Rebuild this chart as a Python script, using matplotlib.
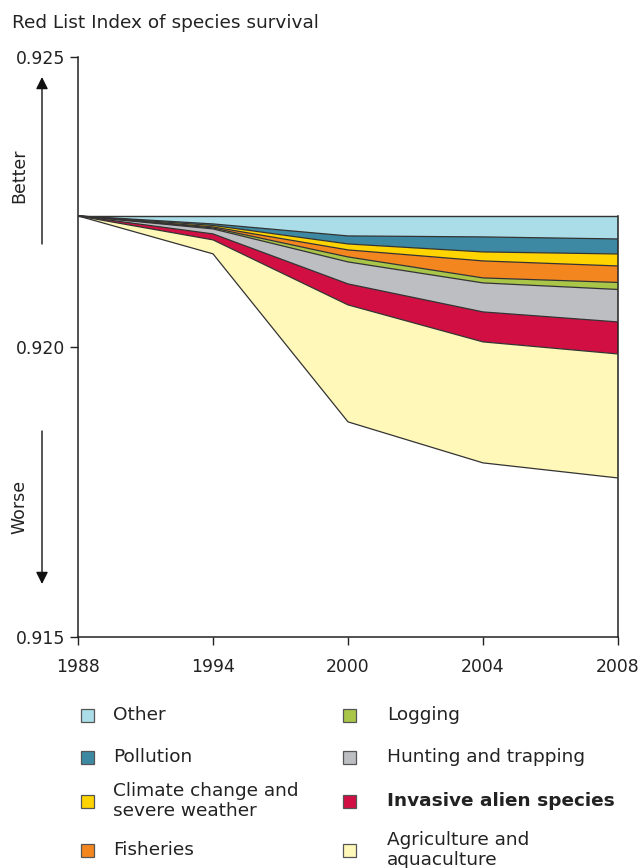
import numpy as np
from matplotlib import pyplot as plt
from matplotlib.patches import Rectangle

# Red List Index decline attributed to each threat (stacked downward from the 1988 level)
years = ["1988", "1994", "2000", "2004", "2008"]
start_level = 0.92226

other = [0, 0.000138, 0.000345, 0.000362, 0.000397]
pollution = [0, 0.000026, 0.000138, 0.000259, 0.000259]
climate = [0, 0.000026, 0.000103, 0.000155, 0.000207]
fisheries = [0, 0.000017, 0.000121, 0.000293, 0.000284]
logging = [0, 0.000017, 0.000086, 0.000086, 0.000121]
hunting = [0, 0.000086, 0.000379, 0.000500, 0.000560]
invasive = [0, 0.000103, 0.000362, 0.000517, 0.000552]
agriculture = [0, 0.000241, 0.002017, 0.002086, 0.002138]

layers = [other, pollution, climate, fisheries, logging, hunting, invasive, agriculture]
labels = ["Other", "Pollution", "Climate change and\nsevere weather", "Fisheries",
          "Logging", "Hunting and trapping", "Invasive alien species",
          "Agriculture and\naquaculture"]
colors = ["#abdde8", "#3d89a3", "#ffd400", "#f4861f",
          "#a9c649", "#bdbec2", "#d20f43", "#fff8b8"]

W, H = 642, 868
fig = plt.figure(figsize=(W / 100, H / 100), dpi=100)
ax = fig.add_axes([78 / W, 1 - 637 / H, 540 / W, 580 / H])

x = np.arange(len(years))
top = np.full(len(years), start_level)
for vals, col in zip(layers, colors):
    bottom = top - np.array(vals)
    ax.fill_between(x, bottom, top, facecolor=col, edgecolor="none", zorder=2)
    top = bottom
# boundary lines
top = np.full(len(years), start_level)
ax.plot(x, top, color="#333333", lw=1.0, zorder=3)
for vals in layers:
    top = top - np.array(vals)
    ax.plot(x, top, color="#333333", lw=0.9, zorder=3)

ax.set_xlim(0, len(years) - 1)
ax.set_ylim(0.915, 0.925)
ax.set_xticks(x)
ax.set_xticklabels(years)
ax.set_yticks([0.915, 0.920, 0.925])
ax.set_yticklabels(["0.915", "0.920", "0.925"])
ax.tick_params(direction="out", length=6, width=1, color="#222222",
               labelsize=12.4, labelcolor="#222222", pad=3)
ax.tick_params(axis="x", pad=9)
for s in ["left", "bottom", "right"]:
    ax.spines[s].set_color("#222222")
    ax.spines[s].set_linewidth(1.1)
ax.spines["top"].set_visible(False)
ax.spines["right"].set_bounds(0.915, start_level)

fig.text(12 / W, 1 - 23 / H, "Red List Index of species survival",
         fontsize=13.3, color="#222222", va="center", ha="left")

# Better / Worse arrows
ax_x = 42 / W
fig.add_artist(plt.Annotation("", xy=(ax_x, 1 - 77 / H), xytext=(ax_x, 1 - 244 / H),
                              xycoords="figure fraction",
                              arrowprops=dict(arrowstyle="-|>", color="#111111", lw=1,
                                              mutation_scale=18, shrinkA=0, shrinkB=0)))
fig.add_artist(plt.Annotation("", xy=(ax_x, 1 - 584 / H), xytext=(ax_x, 1 - 431 / H),
                              xycoords="figure fraction",
                              arrowprops=dict(arrowstyle="-|>", color="#111111", lw=1,
                                              mutation_scale=18, shrinkA=0, shrinkB=0)))
fig.text(19 / W, 1 - 176 / H, "Better", rotation=90, fontsize=12.5, color="#222222",
         ha="center", va="center")
fig.text(19 / W, 1 - 507 / H, "Worse", rotation=90, fontsize=12.5, color="#222222",
         ha="center", va="center")

# legend drawn by hand, two columns
col_sq = [81, 343]
col_tx = [113, 387]
row_y = [715, 757, 801, 850]
sq = 13
for i, (lab, col) in enumerate(zip(labels, colors)):
    c, r = divmod(i, 4)
    yc = row_y[r]
    fig.add_artist(Rectangle((col_sq[c] / W, 1 - (yc + sq / 2) / H), sq / W, sq / H,
                             transform=fig.transFigure, facecolor=col,
                             edgecolor="#555555", lw=0.9))
    fig.text(col_tx[c] / W, 1 - yc / H, lab, fontsize=13.3, color="#222222",
             ha="left", va="center", linespacing=1.15,
             fontweight="bold" if lab.startswith("Invasive") else "normal")

fig.savefig("out.png", dpi=100)
